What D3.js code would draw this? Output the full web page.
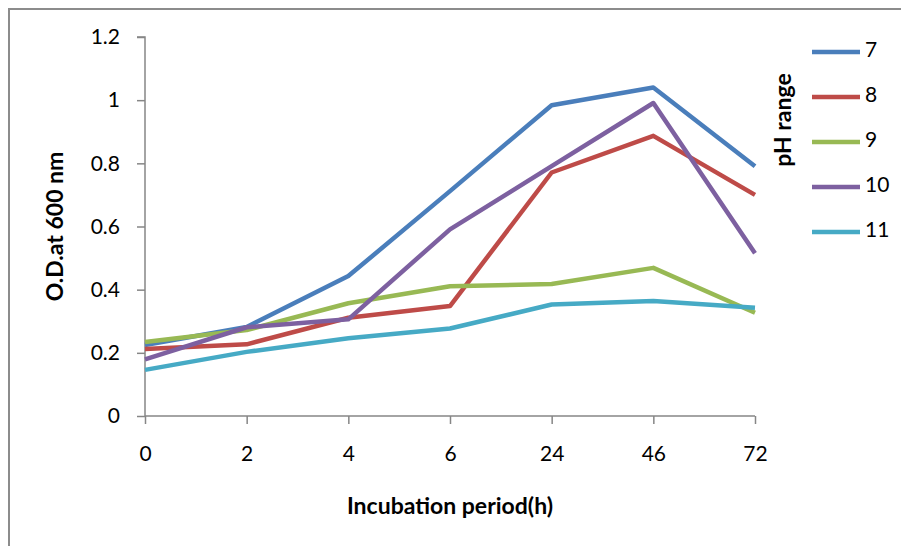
<!DOCTYPE html>
<html lang="en">
<head>
  <meta charset="UTF-8" />
  <title>O.D. at 600 nm by pH range</title>
  <style>
    html, body { margin: 0; padding: 0; background: #fff; }
    svg { display: block; font-family: Lato, "Open Sans", sans-serif; }
  </style>
</head>
<body>
  <div id="chart"></div>

  <script src="https://cdn.jsdelivr.net/npm/d3@7"></script>
  <script>
    // Categories on the x axis (incubation hours)
    const hours = ["0", "2", "4", "6", "24", "46", "72"];

    // Values, one array per pH
    const ph7  = [0.225, 0.282, 0.443, 0.712, 0.984, 1.040, 0.791];
    const ph8  = [0.212, 0.227, 0.311, 0.348, 0.771, 0.887, 0.700];
    const ph9  = [0.234, 0.272, 0.357, 0.411, 0.418, 0.469, 0.327];
    const ph10 = [0.179, 0.281, 0.306, 0.591, 0.791, 0.991, 0.515];
    const ph11 = [0.146, 0.203, 0.246, 0.277, 0.353, 0.364, 0.343];

    const seriesNames = ["7", "8", "9", "10", "11"];
    const seriesValues = [ph7, ph8, ph9, ph10, ph11];
    const seriesColors = ["#4a7ebb", "#be4b48", "#98b954", "#7d60a0", "#46aac5"];

    const yTicks = [0, 0.2, 0.4, 0.6, 0.8, 1, 1.2];

    const width = 901, height = 546;
    const margin = { left: 145, right: 146, top: 37, bottom: 130 };

    const svg = d3.select("#chart")
      .append("svg")
      .attr("width", width)
      .attr("height", height);

    // Outer chart frame (runs off the right and bottom edges)
    svg.append("rect")
      .attr("x", 9).attr("y", 9)
      .attr("width", width).attr("height", height)
      .attr("fill", "none")
      .attr("stroke", "#8c8c8c")
      .attr("stroke-width", 2);

    const x = d3.scalePoint()
      .domain(hours)
      .range([margin.left, width - margin.right]);

    const y = d3.scaleLinear()
      .domain([0, 1.2])
      .range([height - margin.bottom, margin.top]);

    // Y axis
    const yAxis = svg.append("g")
      .attr("transform", `translate(${margin.left},0)`)
      .call(d3.axisLeft(y).tickValues(yTicks).tickSize(8).tickPadding(17)
        .tickFormat(d => d3.format("~g")(d)));

    // X axis
    const xAxis = svg.append("g")
      .attr("transform", `translate(0,${height - margin.bottom})`)
      .call(d3.axisBottom(x).tickSize(8).tickPadding(22));

    [yAxis, xAxis].forEach(g => {
      g.select(".domain").attr("stroke", "#868686").attr("stroke-width", 1.5);
      g.selectAll(".tick line").attr("stroke", "#868686").attr("stroke-width", 1.5);
      g.selectAll(".tick text")
        .attr("fill", "#000")
        .style("font-size", "21px")
        .style("font-family", "Lato, 'Open Sans', sans-serif");
    });
    yAxis.select(".domain").attr("d", `M-8,${y(1.2)}H0V${y(0)}`);
    xAxis.select(".domain").attr("d", `M${x("0")},0H${x("72")}`);

    // Lines
    const line = d3.line()
      .x((d, i) => x(hours[i]))
      .y(d => y(d));

    svg.append("g")
      .selectAll("path")
      .data(seriesValues)
      .join("path")
      .attr("d", d => line(d))
      .attr("fill", "none")
      .attr("stroke", (d, i) => seriesColors[i])
      .attr("stroke-width", 4.5)
      .attr("stroke-linejoin", "round");

    // Axis titles
    svg.append("text")
      .attr("x", (x("0") + x("72")) / 2)
      .attr("y", 508)
      .attr("text-anchor", "middle")
      .attr("dominant-baseline", "middle")
      .style("font-size", "23px")
      .style("font-weight", "bold")
      .text("Incubation period(h)");

    svg.append("text")
      .attr("transform", `translate(57,${(y(0) + y(1.2)) / 2}) rotate(-90)`)
      .attr("text-anchor", "middle")
      .attr("dominant-baseline", "middle")
      .style("font-size", "23px")
      .style("font-weight", "bold")
      .text("O.D.at 600 nm");

    // Legend
    const legend = svg.append("g");
    const legendY = d3.scalePoint()
      .domain(seriesNames)
      .range([52, 232]);

    legend.selectAll("line")
      .data(seriesNames)
      .join("line")
      .attr("x1", 812).attr("x2", 860)
      .attr("y1", d => legendY(d)).attr("y2", d => legendY(d))
      .attr("stroke", (d, i) => seriesColors[i])
      .attr("stroke-width", 4.5);

    legend.selectAll("text")
      .data(seriesNames)
      .join("text")
      .attr("x", 865)
      .attr("y", d => legendY(d))
      .attr("dominant-baseline", "middle")
      .style("font-size", "21px")
      .text(d => d);

    svg.append("text")
      .attr("transform", "translate(785,120) rotate(-90)")
      .attr("text-anchor", "middle")
      .attr("dominant-baseline", "middle")
      .style("font-size", "23px")
      .style("font-weight", "bold")
      .text("pH range");
  </script>
</body>
</html>
